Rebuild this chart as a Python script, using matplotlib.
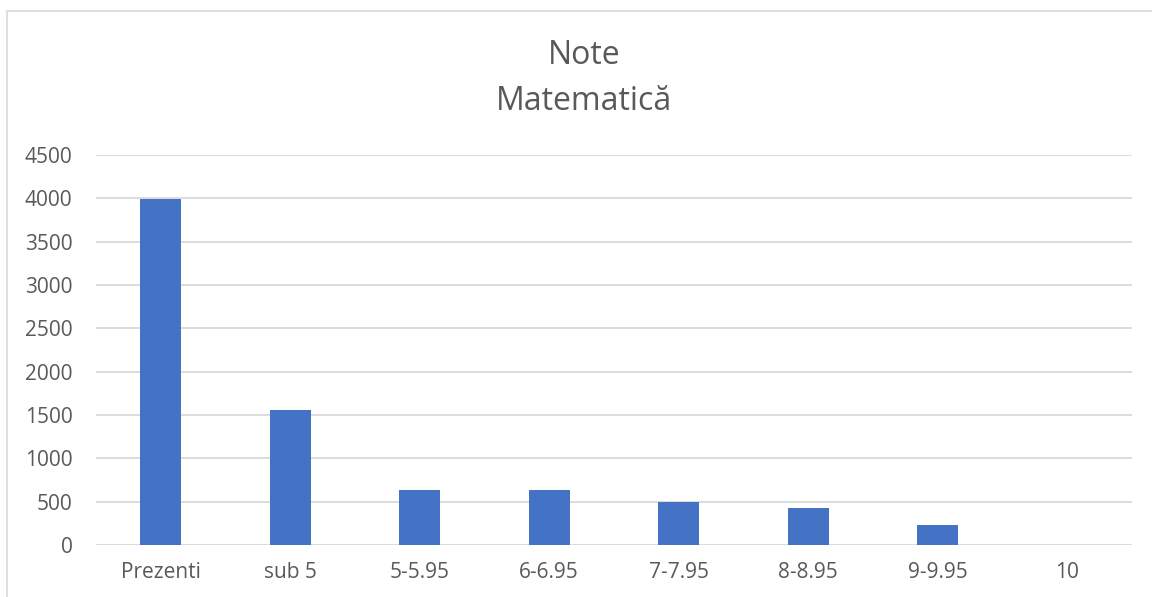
import matplotlib
matplotlib.use("Agg")
import matplotlib.pyplot as plt
from matplotlib.patches import Rectangle

categories = ["Prezenti", "sub 5", "5-5.95", "6-6.95", "7-7.95", "8-8.95", "9-9.95", "10"]
values = [3990, 1560, 637, 632, 492, 426, 234, 5]
yticks = [0, 500, 1000, 1500, 2000, 2500, 3000, 3500, 4000, 4500]

W, H = 1152, 597
fig = plt.figure(figsize=(W / 100, H / 100), dpi=100)
fig.patch.set_facecolor("white")

font = "Open Sans"
txt = "#595959"
grid = "#D9D9D9"

# outer chart border (extends beyond right/bottom edges)
fig.patches.append(Rectangle((7 / W, -0.2), 1.5, 1 - 11 / H + 0.2, transform=fig.transFigure,
                             fill=False, edgecolor=grid, linewidth=1.2))

ax = fig.add_axes([96 / W, 1 - 545 / H, (1132 - 96) / W, (545 - 155) / H])
x = list(range(len(categories)))
ax.bar(x, values, width=0.32, color="#4472C4", zorder=3)
ax.set_xlim(-0.5, len(categories) - 0.5)
ax.set_ylim(0, 4500)
ax.set_yticks(yticks)
ax.set_yticklabels([str(v) for v in yticks])
ax.set_xticks(x)
ax.set_xticklabels(categories)
for s in ax.spines.values():
    s.set_visible(False)
ax.yaxis.grid(True, color=grid, linewidth=1.3, zorder=0)
ax.tick_params(axis="both", length=0, labelsize=15, labelcolor=txt)
ax.tick_params(axis="y", pad=17)
ax.tick_params(axis="x", pad=12)
for lab in ax.get_xticklabels() + ax.get_yticklabels():
    lab.set_fontfamily(font)

cx = 584 / W
fig.text(cx, 1 - 56 / H, "Note", ha="center", va="center",
         fontsize=23, color=txt, family=font)
fig.text(cx, 1 - 102 / H, "Matematică", ha="center", va="center",
         fontsize=23, color=txt, family=font)

fig.savefig("out.png", dpi=100)
